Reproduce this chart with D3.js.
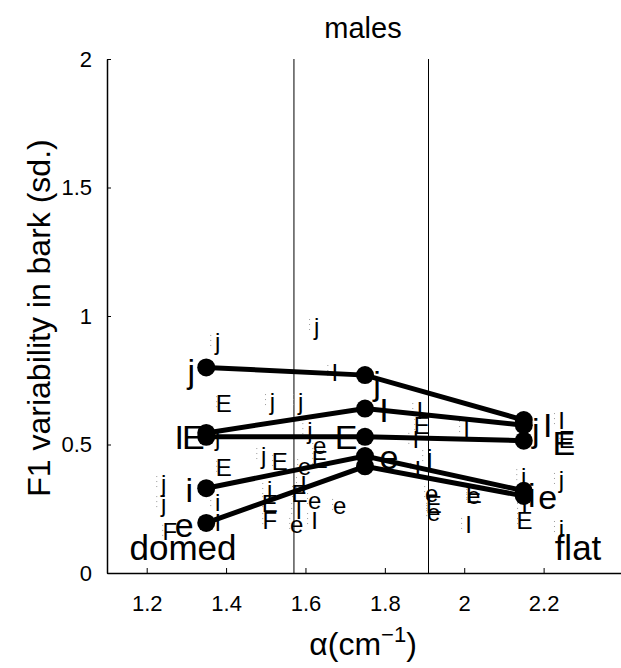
<!DOCTYPE html>
<html>
<head>
<meta charset="utf-8">
<script src="https://cdn.jsdelivr.net/npm/d3@7"></script>
<style>
  body { margin: 0; background: #fff; }
  text { font-family: "Liberation Sans", Arial, sans-serif; fill: #000; }
</style>
</head>
<body>
<div id="chart"></div>
<script>
// data
var seriesNames = ["j", "I", "E", "i", "e"];
var alphaValues = [1.35, 1.75, 2.15];
var sdJ = [0.80, 0.77, 0.595];
var sdI = [0.545, 0.64, 0.575];
var sdE = [0.53, 0.53, 0.515];
var sdSmallI = [0.33, 0.455, 0.32];
var sdSmallE = [0.195, 0.415, 0.30];
var seriesValues = [sdJ, sdI, sdE, sdSmallI, sdSmallE];

// individual points (small letters)
var pointLetters = ["j","j","E","j","j","j","I","j","E","j","e","E","e","I","E","e","e","I","e","I",
                    "i","E","F","E","j","j","i","I","F","I","E","j","I","I","e","E","e","I","e","E",
                    "I","I","E","j","i","E","i","I"];
var pointAlpha = [1.379,1.628,1.394,1.517,1.588,1.379,1.674,1.495,1.535,1.611,1.636,1.636,1.598,1.595,1.585,1.623,1.686,1.583,1.578,1.623,
                  1.510,1.510,1.510,1.394,1.243,1.243,1.379,1.379,1.258,1.888,1.893,1.913,1.883,1.878,1.918,1.923,1.923,2.006,2.024,2.024,
                  2.011,2.245,2.258,2.245,2.150,2.152,2.245,2.152];
var pointSd = [0.899,0.961,0.661,0.669,0.669,0.529,0.782,0.459,0.432,0.556,0.498,0.44,0.416,0.346,0.311,0.284,0.261,0.245,0.187,0.206,
               0.323,0.272,0.206,0.409,0.35,0.272,0.276,0.198,0.16,0.634,0.572,0.451,0.401,0.518,0.311,0.265,0.237,0.564,0.30,0.307,
               0.187,0.595,0.518,0.362,0.377,0.206,0.175,0.265];

var xTicks = [1.2, 1.4, 1.6, 1.8, 2, 2.2];
var yTicks = [0, 0.5, 1, 1.5, 2];
var boundaries = [1.571, 1.91];

// label offsets (pixels) for each series at each alpha, null = hidden
var labelOffsets = [
  [[-15, 4], [12, 8], [12, 10]],
  [[-27, 4], [19, 1], [24, 0]],
  [[-13, 0], [-19, 0], [40, 2]],
  [[-17, 2], null, [8, 4]],
  [[-22, 2], [24, -9], [24, 1]]
];

var width = 621, height = 668;
var svg = d3.select("#chart").append("svg")
  .attr("width", width).attr("height", height);

var x = d3.scaleLinear().domain([1.1, 2.4]).range([107, 623]);
var y = d3.scaleLinear().domain([0, 2]).range([573, 59]);

// boundary lines
svg.selectAll(".bound").data(boundaries).enter().append("line")
  .attr("x1", function(d) { return x(d); }).attr("x2", function(d) { return x(d); })
  .attr("y1", y(2)).attr("y2", y(0))
  .attr("stroke", "#000").attr("stroke-width", 1);

// small letters with tiny dotted bars
var pts = pointLetters.map(function(l, i) { return {l: l, a: pointAlpha[i], v: pointSd[i]}; });
svg.selectAll(".bar").data(pts).enter().append("line")
  .attr("x1", function(d) { return x(d.a) - 7; }).attr("x2", function(d) { return x(d.a) - 7; })
  .attr("y1", function(d) { return y(d.v) - 7; }).attr("y2", function(d) { return y(d.v) + 7; })
  .attr("stroke", "#999").attr("stroke-width", 1).attr("stroke-dasharray", "1,4");
svg.selectAll(".pt").data(pts).enter().append("text")
  .attr("x", function(d) { return x(d.a); })
  .attr("y", function(d) { return y(d.v); })
  .attr("text-anchor", "middle").attr("dominant-baseline", "central")
  .style("font-size", "24px")
  .text(function(d) { return d.l; });

// series lines and markers
var line = d3.line()
  .x(function(d, i) { return x(alphaValues[i]); })
  .y(function(d) { return y(d); });

seriesValues.forEach(function(vals, s) {
  svg.append("path").attr("d", line(vals))
    .attr("fill", "none").attr("stroke", "#000").attr("stroke-width", 5);
  svg.selectAll(".m" + s).data(vals).enter().append("circle")
    .attr("cx", function(d, i) { return x(alphaValues[i]); })
    .attr("cy", function(d) { return y(d); })
    .attr("r", 9).attr("fill", "#000");
});

seriesValues.forEach(function(vals, s) {
  vals.forEach(function(v, i) {
    var off = labelOffsets[s][i];
    if (!off) return;
    svg.append("text")
      .attr("x", x(alphaValues[i]) + off[0])
      .attr("y", y(v) + off[1])
      .attr("text-anchor", "middle").attr("dominant-baseline", "central")
      .style("font-size", "34px")
      .text(seriesNames[s]);
  });
});

// axes
var yAxis = svg.append("g").attr("transform", "translate(" + x(1.1) + ",0)")
  .call(d3.axisLeft(y).tickValues(yTicks).tickFormat(d3.format("")).tickSizeInner(-4).tickSizeOuter(0).tickPadding(15));
var xAxis = svg.append("g").attr("transform", "translate(0," + y(0) + ")")
  .call(d3.axisBottom(x).tickValues(xTicks).tickFormat(d3.format("")).tickSizeInner(-5).tickSizeOuter(0).tickPadding(22));
[xAxis, yAxis].forEach(function(g) {
  g.select(".domain").attr("stroke", "#000").attr("stroke-width", 1.5);
  g.selectAll(".tick line").attr("stroke", "#000");
  g.selectAll("text").style("font-family", "Liberation Sans, Arial, sans-serif").style("font-size", "22px").attr("fill", "#000");
});

// domed / flat
svg.append("text").attr("x", 183).attr("y", 560).attr("text-anchor", "middle")
  .style("font-size", "35px").text("domed");
svg.append("text").attr("x", 578).attr("y", 560).attr("text-anchor", "middle")
  .style("font-size", "35px").text("flat");

// title and labels
svg.append("text").attr("x", 363).attr("y", 38).attr("text-anchor", "middle")
  .style("font-size", "29px").text("males");

svg.append("text")
  .attr("transform", "translate(50,318) rotate(-90)")
  .attr("text-anchor", "middle")
  .style("font-size", "32px").text("F1 variability in bark (sd.)");

var xl = svg.append("text").attr("x", 363).attr("y", 655).attr("text-anchor", "middle")
  .style("font-size", "32px");
xl.append("tspan").text("\u03b1(cm");
xl.append("tspan").attr("dy", -13).style("font-size", "22px").text("\u22121");
xl.append("tspan").attr("dy", 13).text(")");
</script>
</body>
</html>
